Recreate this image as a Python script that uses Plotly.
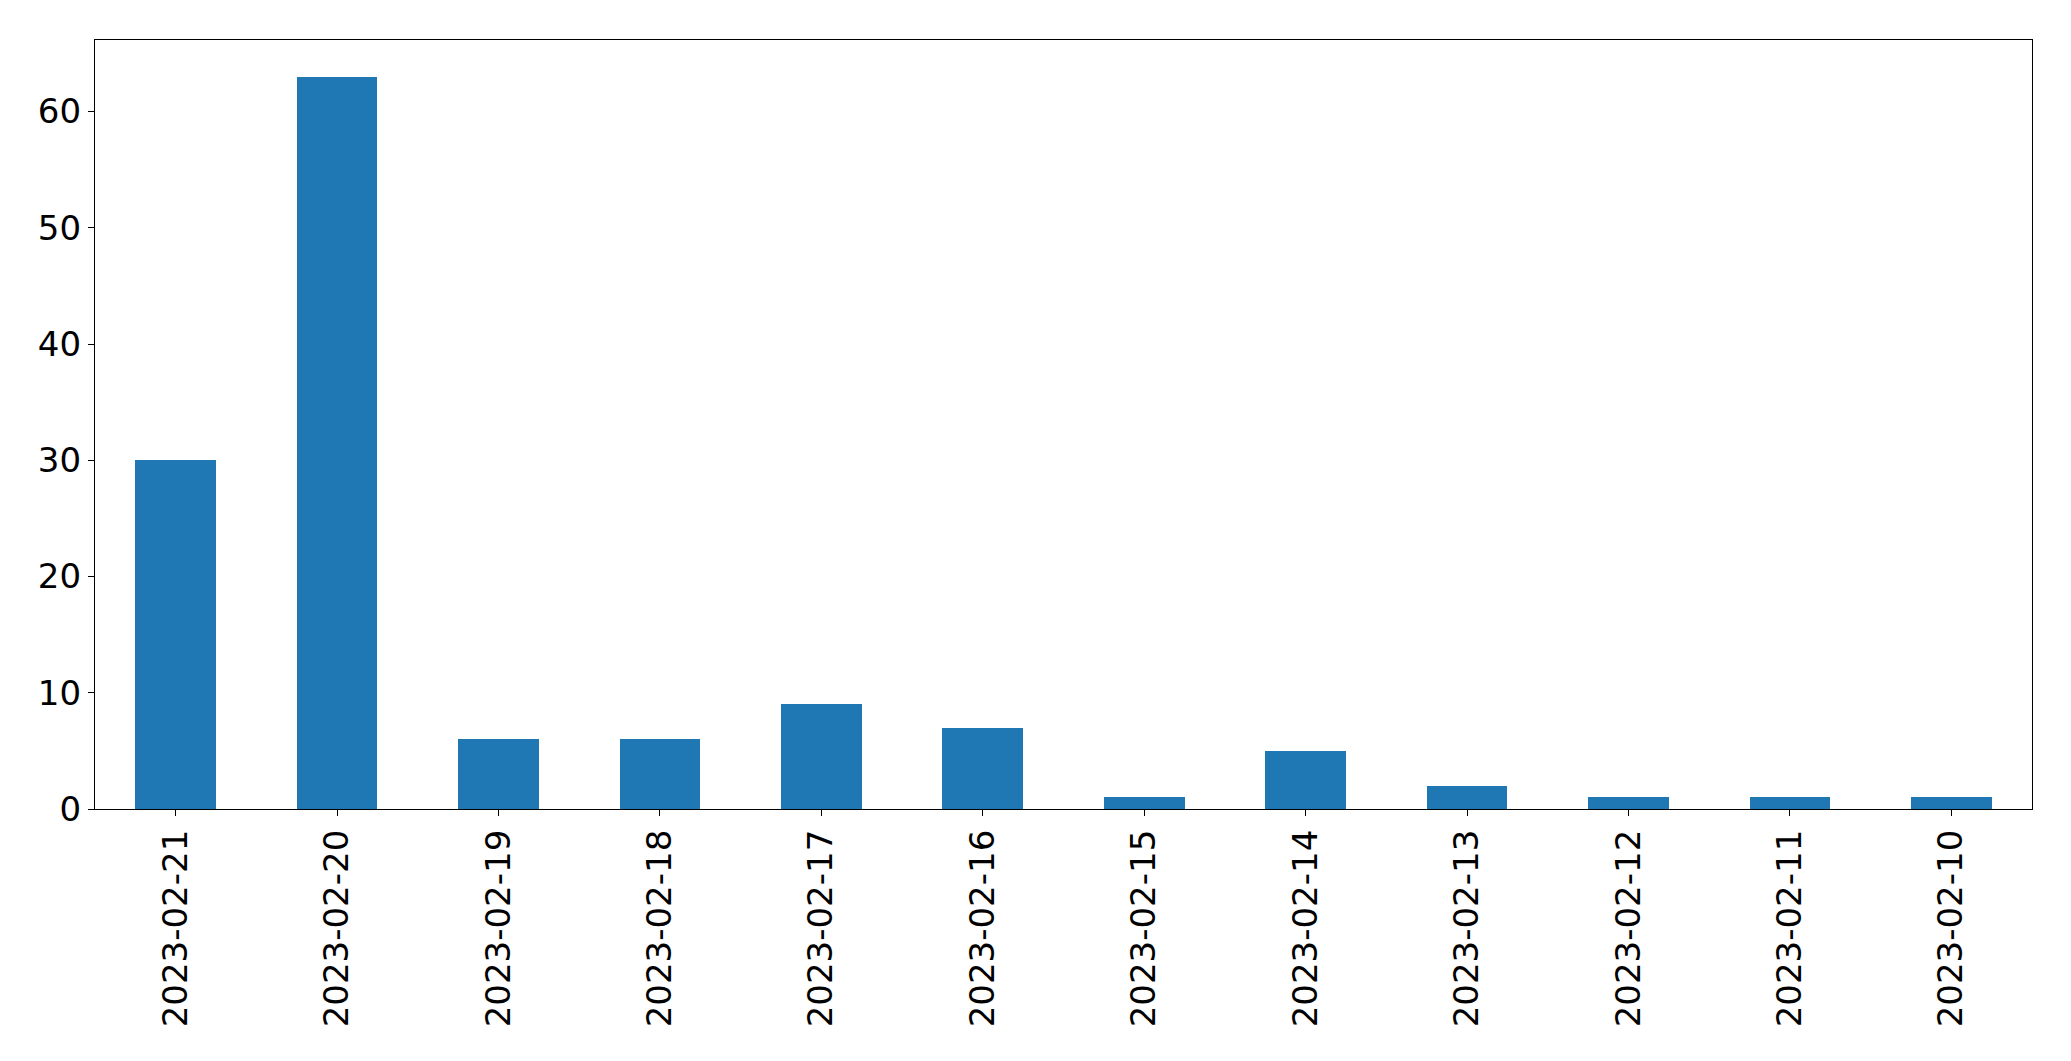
import plotly.graph_objects as go

dates = ["2023-02-21", "2023-02-20", "2023-02-19", "2023-02-18", "2023-02-17", "2023-02-16",
         "2023-02-15", "2023-02-14", "2023-02-13", "2023-02-12", "2023-02-11", "2023-02-10"]
counts = [30, 63, 6, 6, 9, 7, 1, 5, 2, 1, 1, 1]

fig = go.Figure(go.Bar(x=dates, y=counts, width=0.5, marker=dict(color="#1f77b4", line=dict(width=0))))

# page body has an 8px margin; compensate so the plot lands where the reference has it
fig.update_layout(
    width=2063, height=1053,
    margin=dict(l=87, r=39, t=32, b=252, autoexpand=False),
    plot_bgcolor="white", paper_bgcolor="white",
    font=dict(family="DejaVu Sans", size=34, color="black"),
    showlegend=False,
    bargap=0,
)
fig.update_xaxes(type="category", range=[-0.5, 11.5], tickangle=-90,
                 showline=True, linecolor="black", linewidth=1.3, mirror=True,
                 ticks="outside", ticklen=6, tickwidth=1.3, tickcolor="black",
                 showgrid=False, tickfont=dict(size=34))
fig.update_yaxes(range=[0, 66.15], tickvals=[0, 10, 20, 30, 40, 50, 60],
                 showline=True, linecolor="black", linewidth=1.3, mirror=True,
                 ticks="outside", ticklen=6, tickwidth=1.3, tickcolor="black",
                 showgrid=False, zeroline=False, tickfont=dict(size=34))

fig.write_html("out.html")
